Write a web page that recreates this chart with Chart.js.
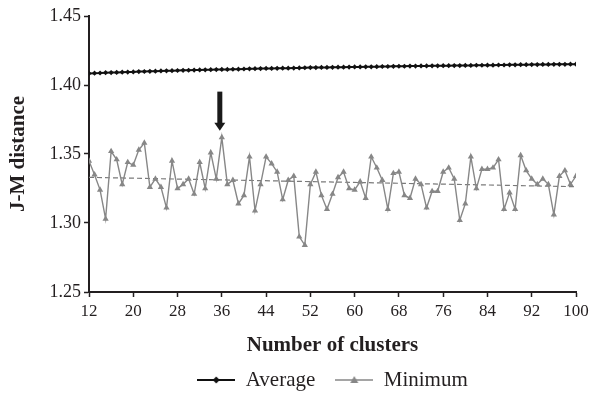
<!DOCTYPE html>
<html>
<head>
<meta charset="utf-8">
<script src="https://cdn.jsdelivr.net/npm/chart.js@4"></script>
<style>
  html, body { margin: 0; padding: 0; background: #fff; }
  #wrap { width: 590px; height: 395px; }
</style>
</head>
<body>
<div id="wrap"><canvas id="jmChart" width="590" height="395"></canvas></div>
<script>

// DATA

const clusters = [];
for (let n = 12; n <= 100; n++) clusters.push(n);

const averageJM = [
    1.4084, 1.4086, 1.4087, 1.4089, 1.4090, 1.4091, 1.4093, 1.4094,
    1.4095, 1.4097, 1.4098, 1.4099, 1.4100, 1.4102, 1.4103, 1.4104,
    1.4105, 1.4106, 1.4107, 1.4108, 1.4109, 1.4110, 1.4111, 1.4112,
    1.4113, 1.4113, 1.4114, 1.4115, 1.4116, 1.4117, 1.4118, 1.4119,
    1.4120, 1.4120, 1.4121, 1.4122, 1.4122, 1.4123, 1.4124, 1.4125,
    1.4126, 1.4126, 1.4127, 1.4127, 1.4128, 1.4129, 1.4129, 1.4130,
    1.4131, 1.4131, 1.4132, 1.4132, 1.4133, 1.4134, 1.4134, 1.4135,
    1.4136, 1.4136, 1.4137, 1.4137, 1.4138, 1.4138, 1.4139, 1.4139,
    1.4140, 1.4140, 1.4141, 1.4141, 1.4142, 1.4142, 1.4143, 1.4143,
    1.4144, 1.4144, 1.4145, 1.4145, 1.4146, 1.4146, 1.4147, 1.4147,
    1.4148, 1.4148, 1.4149, 1.4149, 1.4150, 1.4150, 1.4150, 1.4151,
    1.4151
];

const minimumJM = [
    1.345, 1.335, 1.324, 1.303, 1.352, 1.346, 1.328, 1.344,
    1.342, 1.353, 1.358, 1.326, 1.332, 1.326, 1.311, 1.345,
    1.325, 1.328, 1.332, 1.321, 1.344, 1.325, 1.351, 1.332,
    1.362, 1.328, 1.331, 1.314, 1.320, 1.348, 1.309, 1.328,
    1.348, 1.343, 1.337, 1.317, 1.331, 1.334, 1.290, 1.284,
    1.328, 1.337, 1.320, 1.310, 1.321, 1.333, 1.337, 1.325,
    1.324, 1.330, 1.318, 1.348, 1.340, 1.331, 1.310, 1.336,
    1.337, 1.320, 1.318, 1.332, 1.328, 1.311, 1.323, 1.323,
    1.337, 1.340, 1.332, 1.302, 1.314, 1.348, 1.325, 1.339,
    1.339, 1.340, 1.346, 1.310, 1.322, 1.310, 1.349, 1.338,
    1.332, 1.328, 1.332, 1.328, 1.306, 1.334, 1.338, 1.328,
    1.334
];

const xTicks = [12, 20, 28, 36, 44, 52, 60, 68, 76, 84, 92, 100];
const yTicks = [1.25, 1.30, 1.35, 1.40, 1.45];

// arrow pointing at the best cluster count
const arrowAt = 36;
const arrowSpan = [1.3952, 1.3668];

// linear trend of the minimum series (least squares, like the excel trendline)
function trendOf(xs, ys) {
    const n = xs.length;
    let sx = 0, sy = 0, sxx = 0, sxy = 0;
    for (let i = 0; i < n; i++) {
        sx += xs[i]; sy += ys[i];
        sxx += xs[i] * xs[i]; sxy += xs[i] * ys[i];
    }
    const b = (n * sxy - sx * sy) / (n * sxx - sx * sx);
    const a = (sy - b * sx) / n;
    return [
        { x: xs[0], y: a + b * xs[0] },
        { x: xs[n - 1], y: a + b * xs[n - 1] }
    ];
}

const FONT = "'Liberation Serif', 'Times New Roman', serif";
const INK = '#231f20';
const GREY = '#878787';

// small legend swatches: line with the marker in the middle
function swatch(color, lineW, drawMarker) {
    const c = document.createElement('canvas');
    c.width = 38; c.height = 12;
    const g = c.getContext('2d');
    g.strokeStyle = color;
    g.lineWidth = lineW;
    g.beginPath();
    g.moveTo(0, 6); g.lineTo(38, 6);
    g.stroke();
    g.fillStyle = color;
    drawMarker(g, 19, 6);
    return c;
}

const avgSwatch = swatch('#111', 2, (g, x, y) => {
    g.beginPath();
    g.moveTo(x, y - 3.5); g.lineTo(x + 3.5, y); g.lineTo(x, y + 3.5); g.lineTo(x - 3.5, y);
    g.closePath(); g.fill();
});

const minSwatch = swatch(GREY, 1.5, (g, x, y) => {
    g.beginPath();
    g.moveTo(x, y - 4); g.lineTo(x + 4, y + 3); g.lineTo(x - 4, y + 3);
    g.closePath(); g.fill();
});

// ARROW

const arrowPlugin = {
    id: 'arrow',
    afterDatasetsDraw(chart) {
        const xs = chart.scales.x, ys = chart.scales.y;
        const x = xs.getPixelForValue(arrowAt) - 2;
        const top = ys.getPixelForValue(arrowSpan[0]);
        const tip = ys.getPixelForValue(arrowSpan[1]);
        const ctx = chart.ctx;
        ctx.save();
        ctx.fillStyle = '#1a1a1a';
        ctx.fillRect(x - 2.5, top, 5, tip - top - 7);
        ctx.beginPath();
        ctx.moveTo(x - 5.5, tip - 8);
        ctx.lineTo(x + 5.5, tip - 8);
        ctx.lineTo(x, tip);
        ctx.closePath();
        ctx.fill();
        ctx.restore();
    }
};

// legend sits centred under the plot area, a bit higher than chart.js puts it
const legendPlace = {
    id: 'legendPlace',
    afterLayout(chart) {
        const lg = chart.legend, area = chart.chartArea;
        lg.top -= 8.5;
        lg.bottom = chart.height;
        lg.height = lg.bottom - lg.top;
        lg.left = area.left; lg.right = area.right;
        lg.width = area.right - area.left;
    }
};

// GRÁFICO

const ctx = document.getElementById('jmChart');

const jmChart = new Chart(ctx, {

    type: 'line',

    data: {

        datasets: [{
            label: 'Average',
            data: clusters.map((c, i) => ({ x: c, y: averageJM[i] })),
            borderColor: '#111',
            backgroundColor: '#111',
            borderWidth: 2,
            pointStyle: 'rectRot',
            pointRadius: 2.6,
            pointBorderWidth: 0,
            tension: 0,
            order: 1
        }, {
            label: 'Minimum',
            data: clusters.map((c, i) => ({ x: c, y: minimumJM[i] })),
            borderColor: GREY,
            backgroundColor: GREY,
            borderWidth: 1.4,
            pointStyle: 'triangle',
            pointRadius: 3.6,
            pointBorderWidth: 0,
            tension: 0,
            order: 2
        }, {
            label: 'trend',
            data: trendOf(clusters, minimumJM),
            borderColor: '#7a7a7a',
            borderWidth: 1.2,
            borderDash: [5, 3],
            pointRadius: 0,
            tension: 0,
            order: 3
        }]

    },

    options: {

        responsive: false,
        animation: false,
        devicePixelRatio: 1,

        layout: { padding: { left: 0, right: 14, top: 16, bottom: 0 } },

        plugins: {
            tooltip: { enabled: false },
            legend: {
                position: 'bottom',
                maxHeight: 37,
                labels: {
                    usePointStyle: true,
                    pointStyleWidth: 38,
                    boxHeight: 12,
                    padding: 20,
                    color: INK,
                    font: { family: FONT, size: 21 },
                    filter: item => item.text !== 'trend',
                    generateLabels: chart => chart.data.datasets.map((d, i) => ({
                        text: d.label,
                        datasetIndex: i,
                        pointStyle: i === 0 ? avgSwatch : minSwatch,
                        fillStyle: 'transparent',
                        strokeStyle: 'transparent',
                        lineWidth: 0,
                        fontColor: INK
                    }))
                }
            }
        },

        scales: {

            x: {
                type: 'linear',
                min: 12,
                max: 100,
                afterBuildTicks: s => { s.ticks = xTicks.map(v => ({ value: v })); },
                afterFit: s => {
                    s.height = 66;
                    s.paddingLeft = 0;
                    s.paddingRight = 0;
                },
                grid: {
                    drawOnChartArea: false,
                    tickLength: 5,
                    tickWidth: 1.5,
                    color: INK
                },
                border: { color: INK, width: 2 },
                ticks: {
                    color: INK,
                    padding: 4,
                    maxRotation: 0,
                    font: { family: FONT, size: 17 }
                },
                title: {
                    display: true,
                    text: 'Number of clusters',
                    color: INK,
                    padding: { top: 4, bottom: 0 },
                    font: { family: FONT, size: 21, weight: 'bold' }
                }
            },

            y: {
                min: 1.25,
                max: 1.45,
                afterBuildTicks: s => { s.ticks = yTicks.map(v => ({ value: v })); },
                afterFit: s => {
                    s.width = 89;
                    s.paddingTop = 0;
                    s.paddingBottom = 0;
                },
                grid: {
                    drawOnChartArea: false,
                    tickLength: 5,
                    tickWidth: 1.5,
                    color: INK
                },
                border: { color: INK, width: 2 },
                ticks: {
                    color: INK,
                    padding: 3,
                    font: { family: FONT, size: 18 },
                    callback: v => v.toFixed(2)
                },
                title: {
                    display: true,
                    text: 'J-M distance',
                    color: INK,
                    padding: { top: 6, bottom: 0 },
                    font: { family: FONT, size: 21, weight: 'bold' }
                }
            }

        }

    },

    plugins: [arrowPlugin, legendPlace]

});

</script>
</body>
</html>
